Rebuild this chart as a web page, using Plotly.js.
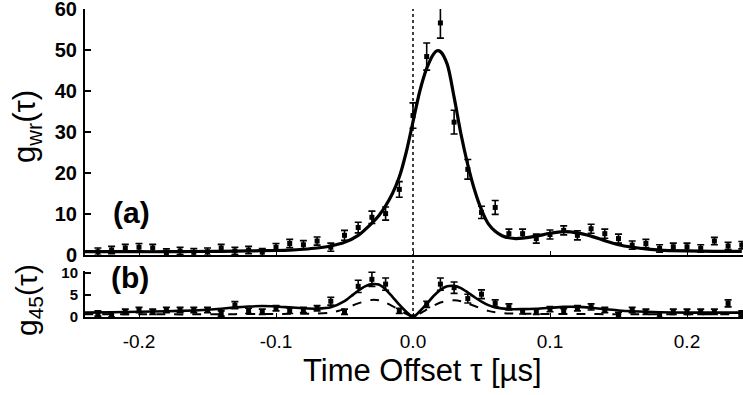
<!DOCTYPE html>
<html><head><meta charset="utf-8">
<script src="https://cdn.plot.ly/plotly-3.0.1.min.js"></script>
<style>html,body{margin:0;padding:0;background:#fff}#chart{width:743px;height:395px}</style>
</head><body><div id="chart"></div>
<script>
// measured time offsets (µs)
const tauData = [-0.23,-0.22,-0.21,-0.20,-0.19,-0.18,-0.17,-0.16,-0.15,-0.14,-0.13,-0.12,-0.11,-0.10,-0.09,-0.08,-0.07,-0.06,-0.05,-0.04,-0.03,-0.02,-0.01,0.00,
                 0.01,0.02,0.03,0.04,0.05,0.06,0.07,0.08,0.09,0.10,0.11,0.12,0.13,0.14,0.15,0.16,0.17,0.18,0.19,0.20,0.21,0.22,0.23,0.24];
// panel (a): g_wr data
const gwr = [0.8,1.2,1.7,1.9,1.7,0.6,1.0,0.65,0.8,1.7,1.0,1.2,0.7,1.9,2.8,2.5,3.4,1.9,4.8,6.7,9.2,10.1,16.0,34.0,
             48.4,56.6,32.4,20.9,10.4,11.6,5.2,5.2,4.0,5.0,6.0,4.8,6.4,5.2,4.0,2.4,2.8,1.6,2.0,2.0,1.6,3.4,2.2,2.4];
const gwrErr = [0.9,0.9,0.9,0.9,0.9,0.9,0.9,0.9,0.9,0.9,0.9,0.9,0.9,0.9,1.0,1.0,1.0,1.0,1.2,1.3,1.5,1.6,1.9,3.1,
                3.3,3.7,2.9,2.4,1.5,1.7,1.1,1.1,1.1,1.1,1.1,1.1,1.1,1.1,1.1,1.0,1.0,0.9,0.9,0.9,0.9,0.9,0.9,0.9];
// panel (a): fit curve
const tauFitA = [-0.24,-0.22,-0.20,-0.18,-0.16,-0.14,-0.12,-0.10,-0.09,-0.08,-0.07,-0.06,-0.05,-0.04,-0.03,-0.025,-0.02,-0.015,-0.01,-0.005,0.0,
                 0.005,0.01,0.015,0.0175,0.02,0.025,0.03,0.035,0.04,0.045,0.05,0.055,0.06,0.065,0.07,0.075,0.08,0.09,0.10,0.11,0.12,0.13,0.14,0.15,0.16,0.17,0.18,0.20,0.22,0.24];
const fitA = [0.8,0.8,0.8,0.8,0.85,0.9,1.0,1.1,1.2,1.4,1.7,2.2,3.1,4.8,7.8,9.6,12.0,15.0,19.0,25.0,32.5,
              40.0,45.5,49.0,49.8,49.6,46.5,38.5,29.5,22.0,15.8,11.0,7.6,5.8,4.7,4.2,4.0,4.1,4.6,5.3,5.7,5.4,4.6,3.5,2.5,1.9,1.5,1.2,1.0,0.9,0.9];
// panel (b): g_45 data
const g45 = [0.8,0.6,1.2,1.6,1.2,1.6,1.6,1.6,1.6,0.8,2.7,1.4,1.2,2.0,1.4,1.6,2.0,3.6,1.2,7.0,8.6,7.5,1.4,0.0,
             2.9,7.5,6.7,4.2,5.2,3.1,2.3,1.3,1.2,1.8,1.3,2.0,2.3,1.6,0.5,1.6,1.2,0.5,1.2,1.2,1.2,1.2,3.1,0.8];
const g45Err = [0.6,0.6,0.6,0.6,0.6,0.6,0.6,0.6,0.6,0.6,0.8,0.6,0.6,0.6,0.6,0.6,0.6,0.9,0.6,1.4,1.6,1.4,0.6,0.3,
                0.7,1.4,1.3,1.0,1.0,0.8,0.7,0.6,0.6,0.6,0.6,0.6,0.7,0.6,0.6,0.6,0.6,0.6,0.6,0.6,0.6,0.6,0.8,0.6];
// panel (b): solid and dashed curves
const tauFitB = [-0.24,-0.22,-0.20,-0.18,-0.16,-0.14,-0.13,-0.12,-0.11,-0.10,-0.09,-0.08,-0.07,-0.06,-0.05,-0.045,-0.04,-0.035,-0.03,-0.025,-0.02,-0.015,-0.01,-0.005,0.0,
                 0.005,0.01,0.015,0.02,0.025,0.03,0.035,0.04,0.045,0.05,0.055,0.06,0.07,0.08,0.09,0.10,0.11,0.12,0.13,0.14,0.15,0.16,0.18,0.20,0.24];
const fitBsolid = [1.0,1.1,1.2,1.3,1.5,1.9,2.2,2.4,2.5,2.4,2.2,2.0,1.9,2.2,3.6,4.8,6.0,7.0,7.5,7.4,6.3,4.6,2.8,1.2,0.0,
                   1.3,3.0,4.8,6.2,7.0,7.1,6.6,5.6,4.5,3.5,2.7,2.2,1.8,1.8,1.9,2.1,2.3,2.3,2.1,1.8,1.5,1.3,1.1,1.0,1.0];
const fitBdash = [0.6,0.6,0.6,0.6,0.6,0.65,0.65,0.7,0.7,0.7,0.72,0.75,0.8,1.0,1.8,2.5,3.1,3.6,3.9,3.8,3.3,2.5,1.6,0.7,0.0,
                  0.8,1.7,2.6,3.3,3.7,3.8,3.6,3.1,2.5,1.9,1.4,1.1,0.8,0.75,0.72,0.7,0.7,0.7,0.68,0.65,0.62,0.6,0.6,0.6,0.6];
const xTickVals = [-0.2,-0.1,0.0,0.1,0.2];
const xTickText = ['-0.2','-0.1','0.0','0.1','0.2'];

const FONT = 'Liberation Sans, Arial, Helvetica, sans-serif';
const L = 85, T = 9, W = 658, H = 308;
const px = p => (p - L) / W;
const py = p => (T + H - p) / H;

const traces = [
  {x: tauFitA, y: fitA, xaxis:'x', yaxis:'y', mode:'lines', line:{color:'#000', width:3.2, shape:'spline', smoothing:0.8}, hoverinfo:'skip'},
  {x: tauData, y: gwr, xaxis:'x', yaxis:'y', mode:'markers', marker:{symbol:'square', size:5, color:'#000'},
   error_y:{type:'data', array:gwrErr, visible:true, color:'#000', thickness:1.6, width:3.5}},
  {x: tauFitB, y: fitBdash, xaxis:'x2', yaxis:'y2', mode:'lines', line:{color:'#000', width:2, dash:'dash', shape:'spline', smoothing:0.6}},
  {x: tauFitB, y: fitBsolid, xaxis:'x2', yaxis:'y2', mode:'lines', line:{color:'#000', width:2.6, shape:'spline', smoothing:0.6}},
  {x: tauData, y: g45, xaxis:'x2', yaxis:'y2', mode:'markers', marker:{symbol:'square', size:5, color:'#000'},
   error_y:{type:'data', array:g45Err, visible:true, color:'#000', thickness:1.6, width:3.5}}
];

const xr = [(L - 413) / 1370, (743 - 413) / 1370];
const baseX = {range: xr, showgrid:false, zeroline:false, showline:true, linecolor:'#000', linewidth:2,
               ticks:'inside', ticklen:4, tickwidth:1, tickcolor:'#000', tickvals:xTickVals, ticktext:xTickText};
const layout = {
  width:743, height:395, margin:{l:L, r:0, t:T, b:395-T-H, pad:0},
  paper_bgcolor:'#fff', plot_bgcolor:'#fff', showlegend:false,
  font:{family:FONT, color:'#000'},
  xaxis: Object.assign({}, baseX, {anchor:'y', showticklabels:false}),
  xaxis2: Object.assign({}, baseX, {anchor:'y2', matches:'x', showticklabels:true,
           tickfont:{family:FONT, size:19, color:'#000'}, ticklabelstandoff:6}),
  yaxis: {domain:[py(255), 1], range:[0,60], tickvals:[0,10,20,30,40,50,60], showgrid:false, zeroline:false, showline:true, linecolor:'#000', linewidth:2,
          ticks:'inside', ticklen:6, tickwidth:1.5, tickcolor:'#000', tickfont:{family:FONT, size:20, weight:'bold', color:'#000'},
          ticklabelstandoff:2, ticklabeloverflow:'allow'},
  yaxis2: {domain:[0, py(271)], range:[0,10.5], tickvals:[0,5,10], showgrid:false, zeroline:false, showline:true, linecolor:'#000', linewidth:2,
          ticks:'inside', ticklen:6, tickwidth:1.5, tickcolor:'#000', tickfont:{family:FONT, size:15, weight:'bold', color:'#000'},
          ticklabelstandoff:2, ticklabeloverflow:'allow'},
  shapes: [{type:'line', xref:'x', yref:'paper', x0:0, x1:0, y0:0, y1:1, line:{color:'#000', width:1.5, dash:'dot'}}],
  annotations: [
    {xref:'paper', yref:'paper', x:px(27), y:py(127), text:'g<sub>wr</sub>(τ)', textangle:-90, showarrow:false,
     xanchor:'center', yanchor:'middle', font:{family:FONT, size:31, color:'#000'}},
    {xref:'paper', yref:'paper', x:px(28), y:py(300), text:'g<sub>45</sub>(τ)', textangle:-90, showarrow:false,
     xanchor:'center', yanchor:'middle', font:{family:FONT, size:30, color:'#000'}},
    {xref:'paper', yref:'paper', x:px(131), y:py(212), text:'<b>(a)</b>', showarrow:false,
     xanchor:'center', yanchor:'middle', font:{family:FONT, size:30, color:'#000'}},
    {xref:'paper', yref:'paper', x:px(130), y:py(277), text:'<b>(b)</b>', showarrow:false,
     xanchor:'center', yanchor:'middle', font:{family:FONT, size:30, color:'#000'}},
    {xref:'paper', yref:'paper', x:px(422), y:py(370), text:'Time Offset τ [µs]', showarrow:false,
     xanchor:'center', yanchor:'middle', font:{family:FONT, size:31, color:'#000'}}
  ]
};
Plotly.newPlot('chart', traces, layout, {staticPlot:true, displayModeBar:false});
</script>
</body></html>
